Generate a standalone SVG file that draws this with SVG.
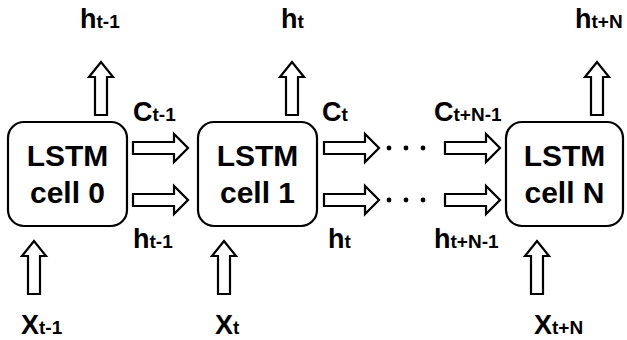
<svg xmlns="http://www.w3.org/2000/svg" width="627" height="340" viewBox="0 0 627 340">
<style>
.box{fill:#fff;stroke:#000;stroke-width:2.2}
.arr{fill:#fff;stroke:#000;stroke-width:2.2;stroke-linejoin:miter}
.cell{font-family:"Liberation Sans",Arial,sans-serif;font-weight:bold;font-size:30px;text-anchor:middle;fill:#000}
.lbl{font-family:"Liberation Sans",Arial,sans-serif;font-weight:bold;font-size:27px;fill:#000}
.sub{font-size:19px}
.dot{fill:#000}
</style>
<defs>
<path id="ar" d="M0,-6 H41 V-14 L55,0 L41,14 V6 H0 Z"/>
<path id="au" d="M-6,0 V-38 H-12 L0,-53 L12,-38 H6 V0 Z"/>
</defs>
<rect width="627" height="340" fill="#fff"/>
<g id="cell0">
<rect class="box" x="8" y="122" width="119" height="104" rx="16"/>
<text class="cell" x="67.5" y="166">LSTM</text>
<text class="cell" x="67.5" y="203">cell 0</text>
</g>
<g id="cell1">
<rect class="box" x="198" y="122" width="119" height="104" rx="16"/>
<text class="cell" x="257.5" y="166">LSTM</text>
<text class="cell" x="257.5" y="203">cell 1</text>
</g>
<g id="cellN">
<rect class="box" x="506" y="122" width="117" height="104" rx="16"/>
<text class="cell" x="564.5" y="166">LSTM</text>
<text class="cell" x="564.5" y="203">cell N</text>
</g>
<g id="connectors">
<use href="#ar" class="arr" x="133" y="148"/>
<use href="#ar" class="arr" x="133" y="200"/>
<use href="#ar" class="arr" x="324" y="148"/>
<use href="#ar" class="arr" x="324" y="200"/>
<use href="#ar" class="arr" x="445" y="148"/>
<use href="#ar" class="arr" x="445" y="200"/>
<use href="#au" class="arr" x="101" y="115"/>
<use href="#au" class="arr" x="292" y="115"/>
<use href="#au" class="arr" x="597" y="115"/>
<use href="#au" class="arr" x="34" y="294"/>
<use href="#au" class="arr" x="224" y="294"/>
<use href="#au" class="arr" x="537" y="294"/>
<g class="dot">
<circle cx="389" cy="148" r="2.4"/><circle cx="406" cy="148" r="2.4"/><circle cx="423" cy="148" r="2.4"/>
<circle cx="389" cy="200" r="2.4"/><circle cx="406" cy="200" r="2.4"/><circle cx="423" cy="200" r="2.4"/>
</g>
</g>
<g id="labels">
<text class="lbl" x="80" y="28">h<tspan class="sub">t-1</tspan></text>
<text class="lbl" x="281" y="28">h<tspan class="sub">t</tspan></text>
<text class="lbl" x="575" y="28">h<tspan class="sub">t+N</tspan></text>
<text class="lbl" x="133" y="121">C<tspan class="sub">t-1</tspan></text>
<text class="lbl" x="133" y="248">h<tspan class="sub">t-1</tspan></text>
<text class="lbl" x="322" y="121">C<tspan class="sub">t</tspan></text>
<text class="lbl" x="328" y="248">h<tspan class="sub">t</tspan></text>
<text class="lbl" x="434" y="121">C<tspan class="sub">t+N-1</tspan></text>
<text class="lbl" x="434" y="248">h<tspan class="sub">t+N-1</tspan></text>
<text class="lbl" x="21" y="334">X<tspan class="sub">t-1</tspan></text>
<text class="lbl" x="215" y="334">X<tspan class="sub">t</tspan></text>
<text class="lbl" x="534" y="334">X<tspan class="sub">t+N</tspan></text>
</g>
</svg>
